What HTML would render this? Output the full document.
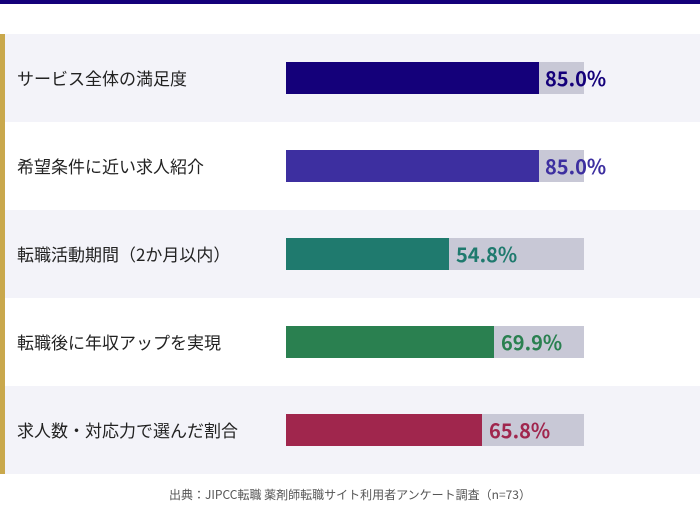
<!DOCTYPE html>
<html><head><meta charset="utf-8"><style>
body{margin:0;width:700px;height:524px;background:#fff;position:relative;overflow:hidden;font-family:"Noto Sans CJK JP",sans-serif}
.top{position:absolute;left:0;top:0;width:700px;height:4px;background:#14007a}
.gold{position:absolute;left:0;top:34px;width:5px;height:440px;background:#c9a84c}
.row{position:absolute;left:5px;width:695px;height:88px}
.g{background:#f3f3f9}
.lab{position:absolute;left:12px;top:0;line-height:88px;font-size:17px;color:#222}
.track{position:absolute;left:281px;top:28px;width:298px;height:32px;background:#c8c8d6}
.fill{position:absolute;left:0;top:0;height:32px}
.val{position:absolute;top:28px;line-height:32px;font-size:20px;font-weight:bold}
.foot{position:absolute;left:0;width:700px;top:486px;text-align:center;font-size:12px;color:#555;line-height:18px}
</style></head><body>
<div class="top"></div>
<div class="row g" style="top:34px"><div class="lab">サービス全体の満足度</div><div class="track"><div class="fill" style="width:253px;background:#14007a"></div></div><div class="val" style="left:540px;color:#14007a">85.0%</div></div>
<div class="row" style="top:122px"><div class="lab">希望条件に近い求人紹介</div><div class="track"><div class="fill" style="width:253px;background:#3d2fa0"></div></div><div class="val" style="left:540px;color:#3d2fa0">85.0%</div></div>
<div class="row g" style="top:210px"><div class="lab">転職活動期間（2か月以内）</div><div class="track"><div class="fill" style="width:163px;background:#1f7a6e"></div></div><div class="val" style="left:451px;color:#1f7a6e">54.8%</div></div>
<div class="row" style="top:298px"><div class="lab">転職後に年収アップを実現</div><div class="track"><div class="fill" style="width:208px;background:#2a8050"></div></div><div class="val" style="left:496px;color:#2a8050">69.9%</div></div>
<div class="row g" style="top:386px"><div class="lab">求人数・対応力で選んだ割合</div><div class="track"><div class="fill" style="width:196px;background:#a0264d"></div></div><div class="val" style="left:484px;color:#a0264d">65.8%</div></div>
<div class="gold"></div>
<div class="foot">出典：JIPCC転職 薬剤師転職サイト利用者アンケート調査（n=73）</div>
</body></html>
